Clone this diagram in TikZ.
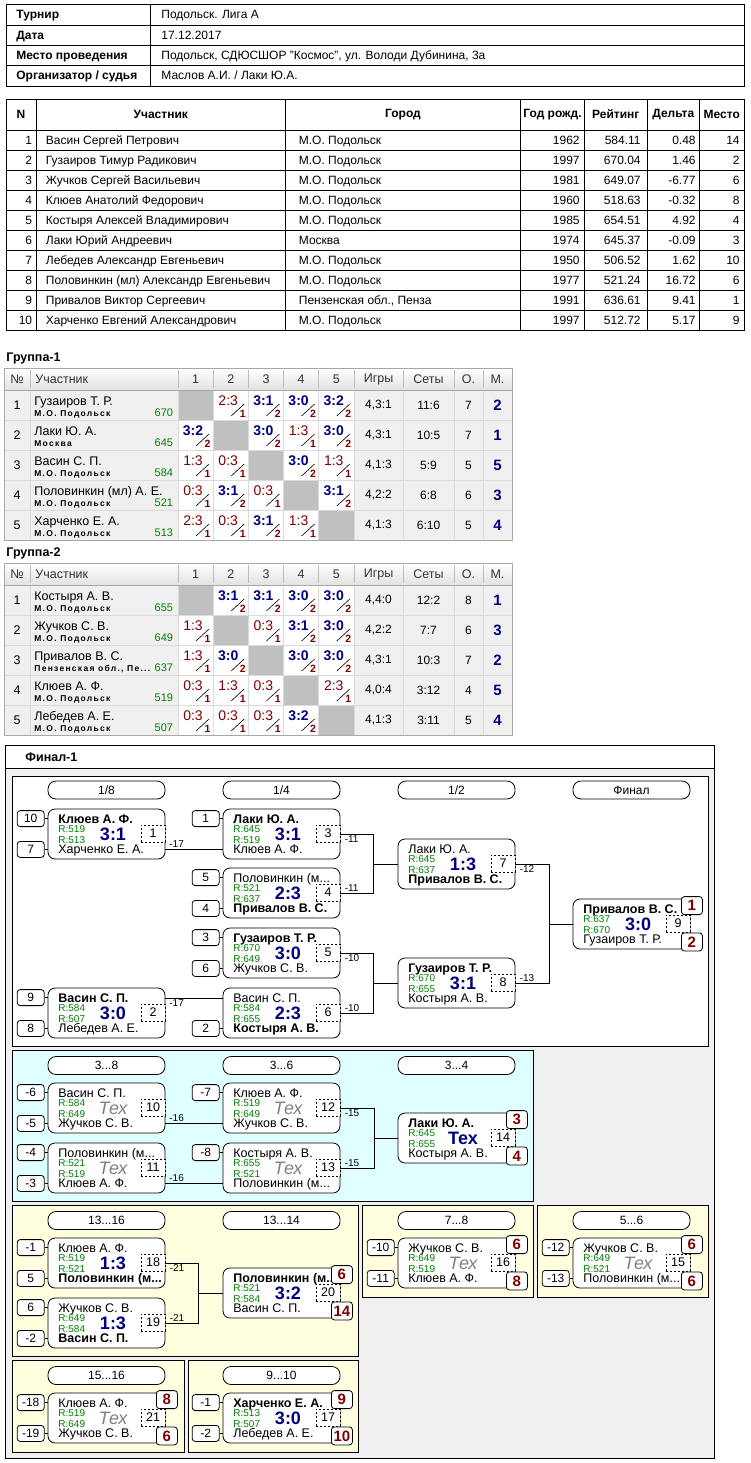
\documentclass[tikz,border=0pt]{standalone}
\usepackage{fontspec}
\setmainfont{Liberation Sans}
\newfontfamily\spacedfont[LetterSpace=15]{Liberation Sans}
\usetikzlibrary{positioning}

\definecolor{navy}{RGB}{0,0,128}
\definecolor{dred}{RGB}{128,0,0}
\definecolor{rgreen}{RGB}{0,128,0}
\definecolor{cellbg}{RGB}{240,240,240}
\definecolor{gridc}{RGB}{218,218,218}
\definecolor{diagc}{RGB}{192,192,192}
\definecolor{hdc}{RGB}{226,226,226}
\definecolor{hdsep}{RGB}{190,190,190}
\definecolor{outc}{RGB}{168,168,168}
\definecolor{panelbg}{RGB}{240,240,240}
\definecolor{cyanbg}{RGB}{224,255,255}
\definecolor{yelbg}{RGB}{255,255,224}
\definecolor{texgray}{RGB}{128,128,128}

\newcommand\fsz[1]{\fontsize{#1}{#1}\selectfont}
\newcommand\scw[1]{\textcolor{navy}{\bfseries\fsz{18}#1}}
\newcommand\scx{\textcolor{texgray}{\itshape\fsz{18}Тех}}

\tikzset{
  txt/.style={inner sep=0pt, font=\fsz{12}},
  hd/.style={inner sep=0pt, font=\fsz{12.5}, text=black!80},
  gbox/.style={draw, rounded corners=7pt, fill=white, minimum width=117pt, minimum height=50pt, inner sep=0pt},
  seedbox/.style={draw, rounded corners=3pt, fill=white, minimum width=27pt, minimum height=16pt, inner sep=0pt, font=\fsz{12}},
  numbox/.style={draw, dash pattern=on 2pt off 2pt, fill=white, minimum width=24pt, minimum height=17pt, inner sep=0pt, font=\fsz{12.5}},
  placebox/.style={draw, rounded corners=3pt, fill=white, minimum width=21pt, minimum height=18pt, inner sep=0pt, font=\bfseries\fsz{15}, text=dred},
  pill/.style={draw, rounded corners=8pt, fill=white, minimum width=117pt, minimum height=18pt, inner sep=0pt, font=\fsz{12}},
  pname/.style={inner sep=0pt, font=\fsz{12.5}},
  rate/.style={inner sep=0pt, font=\fsz{10}, text=rgreen},
  lbl/.style={inner sep=1pt, xshift=3pt, font=\fsz{10}},
  panel/.style={draw, line width=0.8pt}
}

% one game of the bracket: name, left x, top y, upper player, R1, R2, lower player, score, number
\newcommand\gamebox[9]{%
  \node[gbox] (#1) at ({#2+58.5},{#3+25}) {};
  \node[pname, anchor=base west] (#1t) at ({#2+10},{#3+14}) {#4};
  \node[rate, anchor=base west] (#1r) at ({#2+10},{#3+23.5}) {R:#5};
  \node[rate, anchor=base west] (#1q) at ({#2+10},{#3+34.5}) {R:#6};
  \node[pname, anchor=base west] (#1b) at ({#2+10},{#3+44.5}) {#7};
  \node[inner sep=0pt, anchor=base] (#1s) at ({#2+65},{#3+31.5}) {#8};
  \node[numbox] (#1n) at ({#2+105},{#3+24.5}) {#9};
  \coordinate (#1-it) at (#2,{#3+10});
  \coordinate (#1-ib) at (#2,{#3+40});
  \coordinate (#1-ot) at ({#2+117},{#3+10});
  \coordinate (#1-ob) at ({#2+117},{#3+40});
}
\newcommand\seedtop[3]{%
  \node[seedbox, left=3pt of #2.north west, yshift=-10pt] (#1) {#3};
  \draw (#1.east) -- (#1.east -| #2.west);}
\newcommand\seedbot[3]{%
  \node[seedbox, left=3pt of #2.south west, yshift=10pt] (#1) {#3};
  \draw (#1.east) -- (#1.east -| #2.west);}
\newcommand\places[4]{%
  \node[placebox, xshift=1.5pt, yshift=-7pt] (#2a) at (#1.north east) {#3};
  \node[placebox, xshift=1.5pt, yshift=7.5pt] (#2b) at (#1.south east) {#4};}

% group tables
\newcommand\grouphead[2]{%
  \node[anchor=west, inner sep=0pt, font=\bfseries\fsz{12.5}] (t#1) at (6,{#1-10}) {#2};
  \shade[top color=white, bottom color=hdc] (4,#1) rectangle (512,{#1+22});
  \fill[cellbg] (4,{#1+22}) rectangle (512,{#1+172});
  \foreach \x in {30,178,213.2,248.4,283.6,318.8,354,403,454,483}
    \draw[hdsep] (\x,{#1+2}) -- (\x,{#1+20});
  \node[hd] (a#1) at (17,{#1+11}) {№};
  \node[hd, anchor=west] (b#1) at (35,{#1+11}) {Участник};
  \foreach \q in {1,...,5}
    \node[hd] (h#1n\q) at ({178+35.2*(\q-0.5)},{#1+11}) {\q};
  \node[hd] (d#1) at (378.5,{#1+11}) {Игры};
  \node[hd] (e#1) at (428.5,{#1+11}) {Сеты};
  \node[hd] (f#1) at (468.5,{#1+11}) {О.};
  \node[hd] (g#1) at (497.5,{#1+11}) {М.};
}
\newcommand\groupgrid[1]{%
  \foreach \y in {52,82,112,142} \draw[gridc] (4,{#1+\y}) -- (512,{#1+\y});
  \foreach \x in {30,178,213.2,248.4,283.6,318.8,354,403,454,483}
    \draw[gridc] (\x,{#1+22}) -- (\x,{#1+172});
  \draw[outc] (4,#1) rectangle (512,{#1+172});
  \draw[outc] (4,{#1+22}) -- (512,{#1+22});
}
\newcommand\grouprow[9]{%
  \node[inner sep=0pt, font=\fsz{12.5}] (nr#1) at (17,{#1+15}) {#2};
  \node[inner sep=0pt, font=\fsz{12.5}, anchor=base west] (nm#1) at (34,{#1+15.5}) {#3};
  \node[inner sep=0pt, anchor=base west, font=\spacedfont\bfseries\fsz{8.5}] (ct#1) at (34,{#1+26.5}) {#4};
  \node[inner sep=0pt, anchor=base east, font=\fsz{11}, text=rgreen] (rt#1) at (173.5,{#1+26.5}) {#5};
  \node[txt] (gm#1) at (378.5,{#1+15}) {#6};
  \node[txt] (st#1) at (428.5,{#1+15}) {#7};
  \node[txt] (pt#1) at (468.5,{#1+15}) {#8};
  \node[inner sep=0pt, font=\bfseries\fsz{15}, text=navy] (pl#1) at (497.5,{#1+15}) {#9};
}
\newcommand\scorecell[4]{%
  \if#3X\fill[diagc] ({178+35.2*(#2-1)},#1) rectangle ++(35.2,30);%
  \else
  \fill[white] ({178+35.2*(#2-1)},#1) rectangle ++(35.2,30);
  \node[inner sep=0pt] (c#1x#2) at ({178+35.2*(#2-1)+15},{#1+11})
    {\if#3W\color{navy}\bfseries\else\color{dred}\fi\fsz{14}#4};
  \draw[line width=0.6pt] ({178+35.2*(#2-1)+18},{#1+26}) -- ++(13,-12);
  \node[inner sep=0pt, text=dred, font=\bfseries\fsz{10.5}] (d#1x#2) at ({178+35.2*(#2-1)+29.5},{#1+23.5}) {\if#3W2\else1\fi};
  \fi}

\begin{document}
\begin{tikzpicture}[x=1pt,y=-1pt,line width=0.8pt]
\useasboundingbox[fill=white] (0,0) rectangle (750,1463);

% tournament data
\draw (6,4) rectangle (744,86);
\foreach \y in {25,45,65} \draw (6,\y) -- (744,\y);
\draw (150,4) -- (150,86);
\node[txt, anchor=base west, font=\bfseries\fsz{12}] (i1) at (16,19) {Турнир};
\node[txt, anchor=base west, font=\bfseries\fsz{12}] (i2) at (16,39.5) {Дата};
\node[txt, anchor=base west, font=\bfseries\fsz{12}] (i3) at (16,59.5) {Место проведения};
\node[txt, anchor=base west, font=\bfseries\fsz{12}] (i4) at (16,79.5) {Организатор / судья};
\node[txt, anchor=base west] (v1) at (161,19) {Подольск. Лига А};
\node[txt, anchor=base west] (v2) at (161,39.5) {17.12.2017};
\node[txt, anchor=base west] (v3) at (161,59.5) {Подольск, СДЮСШОР "Космос", ул. Володи Дубинина, 3а};
\node[txt, anchor=base west] (v4) at (161,79.5) {Маслов А.И. / Лаки Ю.А.};

% participants
\draw (6,99) rectangle (744,330);
\draw (6,130) -- (744,130);
\foreach \y in {150,170,...,310} \draw (6,\y) -- (744,\y);
\foreach \x in {36,285.5,520.5,584.5,647,699.5} \draw (\x,99) -- (\x,330);
\foreach \t/\x [count=\i] in {N/21,Участник/160.75,Город/403,Год рожд./552.5,Рейтинг/615.75,Дельта/673.25,Место/721.75}
  \node[txt, font=\bfseries\fsz{12}] (ph\i) at (\x,114.5) {\t};
\foreach \nm/\ct/\yr/\rt/\dl/\pl [count=\i] in {
  Васин Сергей Петрович/М.О. Подольск/1962/584.11/0.48/14,
  Гузаиров Тимур Радикович/М.О. Подольск/1997/670.04/1.46/2,
  Жучков Сергей Васильевич/М.О. Подольск/1981/649.07/-6.77/6,
  Клюев Анатолий Федорович/М.О. Подольск/1960/518.63/-0.32/8,
  Костыря Алексей Владимирович/М.О. Подольск/1985/654.51/4.92/4,
  Лаки Юрий Андреевич/Москва/1974/645.37/-0.09/3,
  Лебедев Александр Евгеньевич/М.О. Подольск/1950/506.52/1.62/10,
  Половинкин (мл) Александр Евгеньевич/М.О. Подольск/1977/521.24/16.72/6,
  Привалов Виктор Сергеевич/{Пензенская обл., Пенза}/1991/636.61/9.41/1,
  Харченко Евгений Александрович/М.О. Подольск/1997/512.72/5.17/9}{
  \node[txt, anchor=base east] (pa\i) at (32.5,{124.5+20*\i}) {\i};
  \node[txt, anchor=base west] (pb\i) at (45.5,{124.5+20*\i}) {\nm};
  \node[txt, anchor=base west] (pc\i) at (298.5,{124.5+20*\i}) {\ct};
  \node[txt, anchor=base east] (pd\i) at (580,{124.5+20*\i}) {\yr};
  \node[txt, anchor=base east] (pe\i) at (641,{124.5+20*\i}) {\rt};
  \node[txt, anchor=base east] (pf\i) at (696,{124.5+20*\i}) {\dl};
  \node[txt, anchor=base east] (pg\i) at (740,{124.5+20*\i}) {\pl};
}

% Группа-1
\grouphead{368}{Группа-1}
\grouprow{390}{1}{Гузаиров Т. Р.}{М.О. Подольск}{670}{4,3:1}{11:6}{7}{2}
\foreach \k/\s [count=\q] in {X/x,L/2:3,W/3:1,W/3:0,W/3:2} \scorecell{390}{\q}{\k}{\s};
\grouprow{420}{2}{Лаки Ю. А.}{Москва}{645}{4,3:1}{10:5}{7}{1}
\foreach \k/\s [count=\q] in {W/3:2,X/x,W/3:0,L/1:3,W/3:0} \scorecell{420}{\q}{\k}{\s};
\grouprow{450}{3}{Васин С. П.}{М.О. Подольск}{584}{4,1:3}{5:9}{5}{5}
\foreach \k/\s [count=\q] in {L/1:3,L/0:3,X/x,W/3:0,L/1:3} \scorecell{450}{\q}{\k}{\s};
\grouprow{480}{4}{Половинкин (мл) А. Е.}{М.О. Подольск}{521}{4,2:2}{6:8}{6}{3}
\foreach \k/\s [count=\q] in {L/0:3,W/3:1,L/0:3,X/x,W/3:1} \scorecell{480}{\q}{\k}{\s};
\grouprow{510}{5}{Харченко Е. А.}{М.О. Подольск}{513}{4,1:3}{6:10}{5}{4}
\foreach \k/\s [count=\q] in {L/2:3,L/0:3,W/3:1,L/1:3,X/x} \scorecell{510}{\q}{\k}{\s};
\groupgrid{368}

% Группа-2
\grouphead{563}{Группа-2}
\grouprow{585}{1}{Костыря А. В.}{М.О. Подольск}{655}{4,4:0}{12:2}{8}{1}
\foreach \k/\s [count=\q] in {X/x,W/3:1,W/3:1,W/3:0,W/3:0} \scorecell{585}{\q}{\k}{\s};
\grouprow{615}{2}{Жучков С. В.}{М.О. Подольск}{649}{4,2:2}{7:7}{6}{3}
\foreach \k/\s [count=\q] in {L/1:3,X/x,L/0:3,W/3:1,W/3:0} \scorecell{615}{\q}{\k}{\s};
\grouprow{645}{3}{Привалов В. С.}{Пензенская обл., Пе...}{637}{4,3:1}{10:3}{7}{2}
\foreach \k/\s [count=\q] in {L/1:3,W/3:0,X/x,W/3:0,W/3:0} \scorecell{645}{\q}{\k}{\s};
\grouprow{675}{4}{Клюев А. Ф.}{М.О. Подольск}{519}{4,0:4}{3:12}{4}{5}
\foreach \k/\s [count=\q] in {L/0:3,L/1:3,L/0:3,X/x,L/2:3} \scorecell{675}{\q}{\k}{\s};
\grouprow{705}{5}{Лебедев А. Е.}{М.О. Подольск}{507}{4,1:3}{3:11}{5}{4}
\foreach \k/\s [count=\q] in {L/0:3,L/0:3,L/0:3,W/3:2,X/x} \scorecell{705}{\q}{\k}{\s};
\groupgrid{563}

% Финал-1 frame and panels
\draw[fill=panelbg] (5,745) rectangle (714,1458);
\draw[fill=white] (5,745) rectangle (714,768);
\node[anchor=west, inner sep=0pt, font=\bfseries\fsz{12.5}] (fin) at (25,757.5) {Финал-1};
\draw[panel, fill=white] (12,776) rectangle (708,1046);
\draw[panel, fill=cyanbg] (12,1050) rectangle (533,1201);
\draw[panel, fill=yelbg] (12,1205) rectangle (358,1356);
\draw[panel, fill=yelbg] (362,1205) rectangle (533,1297);
\draw[panel, fill=yelbg] (537,1205) rectangle (708,1297);
\draw[panel, fill=yelbg] (12,1360) rectangle (184,1452);
\draw[panel, fill=yelbg] (188,1360) rectangle (358,1452);

% main bracket
\node[pill] (h1) at (106.5,790) {1/8};
\node[pill] (h2) at (281.5,790) {1/4};
\node[pill] (h3) at (456.5,790) {1/2};
\node[pill] (h4) at (631.5,790) {Финал};
\gamebox{g1}{48}{809}{\bfseries Клюев А. Ф.}{519}{513}{Харченко Е. А.}{\scw{3:1}}{1}
\gamebox{g2}{48}{988}{\bfseries Васин С. П.}{584}{507}{Лебедев А. Е.}{\scw{3:0}}{2}
\gamebox{g3}{223}{809}{\bfseries Лаки Ю. А.}{645}{519}{Клюев А. Ф.}{\scw{3:1}}{3}
\gamebox{g4}{223}{868}{Половинкин (м...}{521}{637}{\bfseries Привалов В. С.}{\scw{2:3}}{4}
\gamebox{g5}{223}{928}{\bfseries Гузаиров Т. Р.}{670}{649}{Жучков С. В.}{\scw{3:0}}{5}
\gamebox{g6}{223}{988}{Васин С. П.}{584}{655}{\bfseries Костыря А. В.}{\scw{2:3}}{6}
\gamebox{g7}{398}{839}{Лаки Ю. А.}{645}{637}{\bfseries Привалов В. С.}{\scw{1:3}}{7}
\gamebox{g8}{398}{958}{\bfseries Гузаиров Т. Р.}{670}{655}{Костыря А. В.}{\scw{3:1}}{8}
\gamebox{g9}{573}{899}{\bfseries Привалов В. С.}{637}{670}{Гузаиров Т. Р.}{\scw{3:0}}{9}
\seedtop{s1}{g1}{10} \seedbot{s2}{g1}{7}
\seedtop{s3}{g2}{9} \seedbot{s4}{g2}{8}
\seedtop{s5}{g3}{1}
\seedtop{s6}{g4}{5} \seedbot{s7}{g4}{4}
\seedtop{s8}{g5}{3} \seedbot{s9}{g5}{6}
\seedbot{s10}{g6}{2}
\places{g9}{f9}{1}{2}
\draw (g1-ob) -- (g3-ib);
\node[lbl, anchor=south west] (m1) at (g1-ob) {-17};
\draw (g2-ot) -- (g6-it);
\node[lbl, anchor=north west] (m2) at (g2-ot) {-17};
\path (g7.west) ++(-24,0) coordinate (j1);
\draw (g3.east) -| (j1) |- (g4.east);
\draw (j1) -- (g7.west);
\node[lbl, anchor=north west] (m3) at (g3.east) {-11};
\node[lbl, anchor=south west] (m4) at (g4.east) {-11};
\path (g8.west) ++(-24,0) coordinate (j2);
\draw (g5.east) -| (j2) |- (g6.east);
\draw (j2) -- (g8.west);
\node[lbl, anchor=north west] (m5) at (g5.east) {-10};
\node[lbl, anchor=south west] (m6) at (g6.east) {-10};
\path (g9.west) ++(-23,0) coordinate (j3);
\draw (g7.east) -| (j3) |- (g8.east);
\draw (j3) -- (g9.west);
\node[lbl, anchor=north west] (m7) at (g7.east) {-12};
\node[lbl, anchor=south west] (m8) at (g8.east) {-13};

% 3...8
\node[pill] (h5) at (106.5,1065.5) {3...8};
\node[pill] (h6) at (281.5,1065.5) {3...6};
\node[pill] (h7) at (456.5,1065.5) {3...4};
\gamebox{g10}{48}{1083}{Васин С. П.}{584}{649}{Жучков С. В.}{\scx}{10}
\gamebox{g11}{48}{1143}{Половинкин (м...}{521}{519}{Клюев А. Ф.}{\scx}{11}
\gamebox{g12}{223}{1083}{Клюев А. Ф.}{519}{649}{Жучков С. В.}{\scx}{12}
\gamebox{g13}{223}{1143}{Костыря А. В.}{655}{521}{Половинкин (м...}{\scx}{13}
\gamebox{g14}{398}{1113}{\bfseries Лаки Ю. А.}{645}{655}{Костыря А. В.}{\scw{Тех}}{14}
\seedtop{s11}{g10}{-6} \seedbot{s12}{g10}{-5}
\seedtop{s13}{g11}{-4} \seedbot{s14}{g11}{-3}
\seedtop{s15}{g12}{-7}
\seedtop{s16}{g13}{-8}
\places{g14}{f14}{3}{4}
\draw (g10-ob) -- (g12-ib);
\node[lbl, anchor=south west] (m9) at (g10-ob) {-16};
\draw (g11-ob) -- (g13-ib);
\node[lbl, anchor=south west] (m10) at (g11-ob) {-16};
\path (g14.west) ++(-23,0) coordinate (j4);
\draw (g12.east) -| (j4) |- (g13.east);
\draw (j4) -- (g14.west);
\node[lbl, anchor=north west] (m11) at (g12.east) {-15};
\node[lbl, anchor=south west] (m12) at (g13.east) {-15};

% 13...16
\node[pill] (h8) at (106.5,1220.5) {13...16};
\node[pill] (h9) at (281.5,1220.5) {13...14};
\gamebox{g18}{48}{1238}{Клюев А. Ф.}{519}{521}{\bfseries Половинкин (м...}{\scw{1:3}}{18}
\gamebox{g19}{48}{1298}{Жучков С. В.}{649}{584}{\bfseries Васин С. П.}{\scw{1:3}}{19}
\gamebox{g20}{223}{1268}{\bfseries Половинкин (м...}{521}{584}{Васин С. П.}{\scw{3:2}}{20}
\seedtop{s17}{g18}{-1} \seedbot{s18}{g18}{5}
\seedtop{s19}{g19}{6} \seedbot{s20}{g19}{-2}
\places{g20}{f20}{6}{14}
\path (g20.west) ++(-24,0) coordinate (j5);
\draw (g18.east) -| (j5) |- (g19.east);
\draw (j5) -- (g20.west);
\node[lbl, anchor=north west] (m13) at (g18.east) {-21};
\node[lbl, anchor=south west] (m14) at (g19.east) {-21};

% 7...8
\node[pill] (h10) at (456.5,1220.5) {7...8};
\gamebox{g16}{398}{1238}{Жучков С. В.}{649}{519}{Клюев А. Ф.}{\scx}{16}
\seedtop{s21}{g16}{-10} \seedbot{s22}{g16}{-11}
\places{g16}{f16}{6}{8}

% 5...6
\node[pill] (h11) at (631.5,1220.5) {5...6};
\gamebox{g15}{573}{1238}{Жучков С. В.}{649}{521}{Половинкин (м...}{\scx}{15}
\seedtop{s23}{g15}{-12} \seedbot{s24}{g15}{-13}
\places{g15}{f15}{6}{6}

% 15...16
\node[pill] (h12) at (106.5,1375.5) {15...16};
\gamebox{g21}{48}{1393}{Клюев А. Ф.}{519}{649}{Жучков С. В.}{\scx}{21}
\seedtop{s25}{g21}{-18} \seedbot{s26}{g21}{-19}
\places{g21}{f21}{8}{6}

% 9...10
\node[pill] (h13) at (281.5,1375.5) {9...10};
\gamebox{g17}{223}{1393}{\bfseries Харченко Е. А.}{513}{507}{Лебедев А. Е.}{\scw{3:0}}{17}
\seedtop{s27}{g17}{-1} \seedbot{s28}{g17}{-2}
\places{g17}{f17}{9}{10}
\end{tikzpicture}
\end{document}
